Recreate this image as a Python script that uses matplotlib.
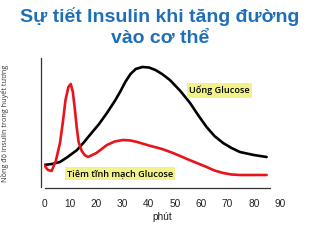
import matplotlib
matplotlib.use("Agg")
import matplotlib.pyplot as plt

# doc tu hinh: phut, nong do (don vi tuy y)
oral_t = [0, 3, 6.1, 9, 12.6, 15, 17.5, 21, 24, 27, 29, 31, 33, 35, 37.5, 40, 42.5, 45,
          48, 52, 55.7, 59, 62, 65, 68.3, 71.5, 74.7, 80, 84.9]
oral_v = [23, 24, 26, 31, 38, 45, 53, 64, 75, 87, 96, 106, 114, 119, 121, 120.5, 118, 114,
          108, 97, 85, 72, 61, 52, 45, 40, 36, 33, 31]
iv_t = [0, 1.5, 2.9, 4.5, 6.1, 7.2, 8.2, 9.3, 10.2, 11, 11.8, 12.5, 13.2, 14.4, 15.5, 16.8,
        20, 24, 27, 30.1, 33, 35.5, 40, 45, 49.2, 55, 62, 65, 68.3, 71.5, 74.7, 80, 84.9]
iv_v = [23, 18, 17, 27, 45, 66, 88, 101, 104, 96, 78, 60, 46, 37, 33, 31, 35, 43, 46.5, 48,
        47.5, 46, 42.5, 39, 35, 28.5, 21, 17.5, 15, 13.5, 13, 13, 13]
xticks = [0, 10, 20, 30, 40, 50, 60, 70, 80, 90]

fig = plt.figure(figsize=(3.2, 2.4), dpi=100)
ax = fig.add_axes([0.1375, 0.2167, 0.7375, 0.5417])

ax.plot(oral_t, oral_v, color="black", lw=1.9, solid_joinstyle="round", solid_capstyle="round")
ax.plot(iv_t, iv_v, color="#e8141b", lw=1.9, solid_joinstyle="round", solid_capstyle="round")

ax.set_xlim(0, 90)
ax.set_ylim(0, 130)
ax.set_xticks(xticks)
ax.set_xticklabels([str(t) for t in xticks], fontsize=7.3, family="Liberation Sans", color="#222222")
ax.set_yticks([])
ax.tick_params(axis="x", length=0, pad=8)
for s in ["top", "right"]:
    ax.spines[s].set_visible(False)
ax.spines["left"].set_bounds(1, 130)
ax.spines["left"].set_position(("outward", 2))
ax.spines["bottom"].set_bounds(0.4, 86)
ax.spines["left"].set_color("#333333")
ax.spines["bottom"].set_color("#333333")
ax.spines["left"].set_linewidth(0.9)
ax.spines["bottom"].set_linewidth(0.9)

ax.set_xlabel("phút", fontsize=7.3, family="Liberation Sans", color="#222222", labelpad=2)
ax.set_ylabel("Nồng độ insulin trong huyết tương", fontsize=5.2, family="Open Sans",
              color="#333333", labelpad=23)

box = dict(boxstyle="square,pad=0.25", fc="#f2f28a", ec="none")
ax.text(67, 97.5, "Uống Glucose", fontsize=6.6, family="Open Sans", weight="semibold",
        ha="center", va="center", bbox=box)
ax.text(29, 14.5, "Tiêm tĩnh mạch Glucose", fontsize=6.6, family="Open Sans", weight="semibold",
        ha="center", va="center", bbox=box)

fig.text(0.5, 0.93, "Sự tiết Insulin khi tăng đường", fontsize=14, weight="bold",
         family="Liberation Sans", color="#1f6fb6", ha="center", va="center")
fig.text(0.5, 0.84, "vào cơ thể", fontsize=14, weight="bold",
         family="Liberation Sans", color="#1f6fb6", ha="center", va="center")

fig.savefig("out.png", dpi=100)
